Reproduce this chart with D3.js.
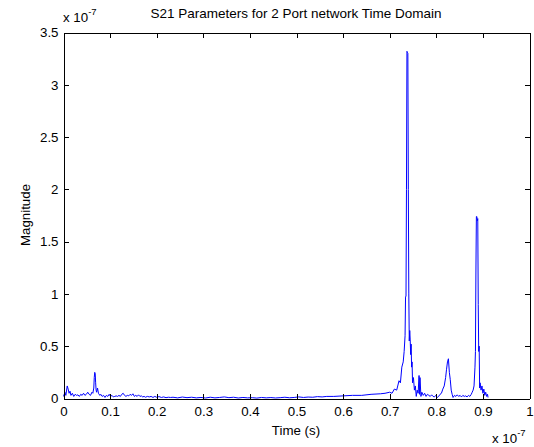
<!DOCTYPE html>
<meta charset="utf-8">
<style>
body { margin: 0; background: #fff; }
text { font-family: "Liberation Sans", Arial, sans-serif; fill: #000; }
.axis path, .axis line { stroke: #000; shape-rendering: crispEdges; }
.axis text { font-size: 13.3px; }
.line { fill: none; stroke: #0000ff; stroke-width: 1px; }
</style>
<body>
<script src="https://d3js.org/d3.v7.min.js"></script>
<script>

// time in units of 1e-7 s
var timeE7 = [
  0.000, 0.003, 0.005, 0.008, 0.010, 0.012, 0.014, 0.016, 0.019, 0.022,
  0.025, 0.028, 0.031, 0.034, 0.037, 0.040, 0.043, 0.046, 0.049, 0.052,
  0.055, 0.058, 0.061, 0.063, 0.065, 0.066, 0.067, 0.068, 0.069, 0.070,
  0.071, 0.073, 0.075, 0.078, 0.080, 0.083, 0.086, 0.089, 0.092, 0.095,
  0.098, 0.101, 0.104, 0.107, 0.110, 0.113, 0.116, 0.119, 0.122, 0.125,
  0.128, 0.131, 0.134, 0.137, 0.140, 0.143, 0.146, 0.149, 0.152, 0.155,
  0.158, 0.161, 0.164, 0.167, 0.170, 0.173, 0.176, 0.180, 0.184, 0.188,
  0.192, 0.196, 0.200, 0.205, 0.210, 0.215, 0.220, 0.225, 0.230, 0.235,
  0.245, 0.255, 0.265, 0.275, 0.285, 0.295, 0.305, 0.315, 0.325, 0.335,
  0.345, 0.355, 0.365, 0.375, 0.385, 0.395, 0.405, 0.415, 0.425, 0.435,
  0.445, 0.455, 0.465, 0.475, 0.485, 0.495, 0.505, 0.515, 0.525, 0.535,
  0.545, 0.555, 0.565, 0.580, 0.600, 0.620, 0.640, 0.660, 0.680, 0.690,
  0.700, 0.705, 0.710, 0.715, 0.720, 0.723, 0.726, 0.729, 0.731, 0.733,
  0.734, 0.735, 0.736, 0.737, 0.738, 0.739, 0.740, 0.741, 0.742, 0.743,
  0.744, 0.745, 0.746, 0.747, 0.748, 0.749, 0.751, 0.753, 0.755, 0.757,
  0.759, 0.761, 0.763, 0.764, 0.765, 0.767, 0.769, 0.772, 0.775, 0.778,
  0.781, 0.784, 0.787, 0.790, 0.793, 0.796, 0.799, 0.802, 0.805, 0.808,
  0.811, 0.814, 0.817, 0.820, 0.822, 0.824, 0.826, 0.828, 0.830, 0.832,
  0.834, 0.836, 0.839, 0.842, 0.845, 0.848, 0.851, 0.854, 0.857, 0.860,
  0.863, 0.866, 0.869, 0.872, 0.875, 0.877, 0.879, 0.881, 0.883, 0.884,
  0.885, 0.886, 0.887, 0.888, 0.889, 0.890, 0.891, 0.892, 0.893, 0.894,
  0.896, 0.898, 0.900, 0.902, 0.904, 0.906, 0.908, 0.910, 0.911
];

// magnitude in units of 1e-7
var magE7 = [
  0.02, 0.06, 0.03, 0.12, 0.09, 0.05, 0.07, 0.03, 0.05, 0.02,
  0.04, 0.03, 0.035, 0.02, 0.04, 0.03, 0.05, 0.03, 0.04, 0.06,
  0.04, 0.03, 0.06, 0.05, 0.10, 0.20, 0.25, 0.24, 0.15, 0.08,
  0.06, 0.10, 0.05, 0.03, 0.04, 0.02, 0.03, 0.01, 0.03, 0.02,
  0.04, 0.02, 0.03, 0.015, 0.02, 0.025, 0.02, 0.03, 0.02, 0.04,
  0.05, 0.03, 0.02, 0.03, 0.025, 0.04, 0.03, 0.045, 0.02, 0.03,
  0.02, 0.035, 0.02, 0.025, 0.015, 0.02, 0.012, 0.02, 0.015, 0.02,
  0.01, 0.02, 0.012, 0.018, 0.01, 0.015, 0.008, 0.012, 0.01, 0.012,
  0.006, 0.014, 0.008, 0.012, 0.006, 0.01, 0.005, 0.012, 0.006, 0.01,
  0.015, 0.008, 0.012, 0.005, 0.01, 0.006, 0.008, 0.004, 0.01, 0.006,
  0.009, 0.005, 0.008, 0.012, 0.007, 0.01, 0.015, 0.01, 0.014, 0.012,
  0.018, 0.015, 0.02, 0.02, 0.025, 0.03, 0.03, 0.04, 0.045, 0.05,
  0.06, 0.05, 0.09, 0.08, 0.17, 0.15, 0.30, 0.35, 0.45, 0.60,
  0.97, 0.98, 2.00, 3.32, 3.31, 3.30, 2.00, 1.00, 0.55, 0.65,
  0.56, 0.42, 0.52, 0.30, 0.35, 0.15, 0.20, 0.08, 0.12, 0.02,
  0.08, 0.05, 0.22, 0.04, 0.20, 0.02, 0.06, 0.03, 0.05, 0.02,
  0.04, 0.03, 0.02, 0.035, 0.02, 0.015, 0.03, 0.01, 0.02, 0.04,
  0.05, 0.09, 0.12, 0.20, 0.28, 0.35, 0.38, 0.25, 0.18, 0.08,
  0.04, 0.01, 0.03, 0.02, 0.035, 0.02, 0.03, 0.015, 0.03, 0.02,
  0.025, 0.015, 0.03, 0.02, 0.04, 0.06, 0.08, 0.12, 0.30, 0.45,
  1.20, 1.74, 1.74, 1.70, 1.72, 0.90, 0.45, 0.50, 0.10, 0.15,
  0.08, 0.12, 0.05, 0.09, 0.03, 0.06, 0.02, 0.04, 0.01
];

var xTicks = [0, 0.1, 0.2, 0.3, 0.4, 0.5, 0.6, 0.7, 0.8, 0.9, 1];
var yTicks = [0, 0.5, 1, 1.5, 2, 2.5, 3, 3.5];

var titleText = "S21 Parameters for 2 Port network Time Domain";
var xLabel = "Time (s)";
var yLabel = "Magnitude";

var W = 534, H = 447;
var margin = {top: 32, right: 5, bottom: 49, left: 63};
var width = W - margin.left - margin.right,
    height = H - margin.top - margin.bottom;

var data = timeE7.map(function(t, i) { return {t: t, m: magE7[i]}; });

var x = d3.scaleLinear().domain([0, 1]).range([0, width]);
var y = d3.scaleLinear().domain([0, 3.5]).range([height, 0]);

var svg = d3.select("body").append("svg")
    .attr("width", W)
    .attr("height", H);

var g = svg.append("g")
    .attr("transform", "translate(" + (margin.left + 0.5) + "," + (margin.top + 0.5) + ")");

// data line
var valueline = d3.line()
    .x(function(d) { return x(d.t); })
    .y(function(d) { return y(d.m); });

g.append("path")
    .datum(data)
    .attr("class", "line")
    .attr("d", valueline);

// axes, ticks pointing inward like matlab
g.append("g")
    .attr("class", "axis")
    .attr("transform", "translate(0," + height + ")")
    .call(d3.axisBottom(x).tickValues(xTicks).tickSizeInner(-5).tickSizeOuter(0).tickPadding(8)
      .tickFormat(d3.format("~g")));

g.append("g")
    .attr("class", "axis")
    .call(d3.axisLeft(y).tickValues(yTicks).tickSizeInner(-5).tickSizeOuter(0).tickPadding(5)
      .tickFormat(d3.format("~g")));

g.append("g")
    .attr("class", "axis")
    .call(d3.axisTop(x).tickValues(xTicks).tickSizeInner(-5).tickSizeOuter(0).tickFormat(""));

g.append("g")
    .attr("class", "axis")
    .attr("transform", "translate(" + width + ",0)")
    .call(d3.axisRight(y).tickValues(yTicks).tickSizeInner(-5).tickSizeOuter(0).tickFormat(""));

g.selectAll(".axis text").attr("font-family", "Liberation Sans, Arial, sans-serif");

// title and labels
svg.append("text")
    .attr("x", margin.left + width / 2)
    .attr("y", 18)
    .attr("text-anchor", "middle")
    .style("font-size", "13.5px")
    .text(titleText);

svg.append("text")
    .attr("x", margin.left + width / 2)
    .attr("y", 435)
    .attr("text-anchor", "middle")
    .style("font-size", "13.3px")
    .text(xLabel);

svg.append("text")
    .attr("transform", "translate(30," + (margin.top + height / 2) + ") rotate(-90)")
    .attr("text-anchor", "middle")
    .style("font-size", "13.3px")
    .text(yLabel);

// exponent markers
function expLabel(px, py) {
  var t = svg.append("text")
      .attr("x", px)
      .attr("y", py)
      .style("font-size", "13.3px");
  t.append("tspan").text("x 10");
  t.append("tspan").attr("dy", -7).style("font-size", "9.5px").text("-7");
}
expLabel(63, 22);
expLabel(492, 443);

</script>
</body>
